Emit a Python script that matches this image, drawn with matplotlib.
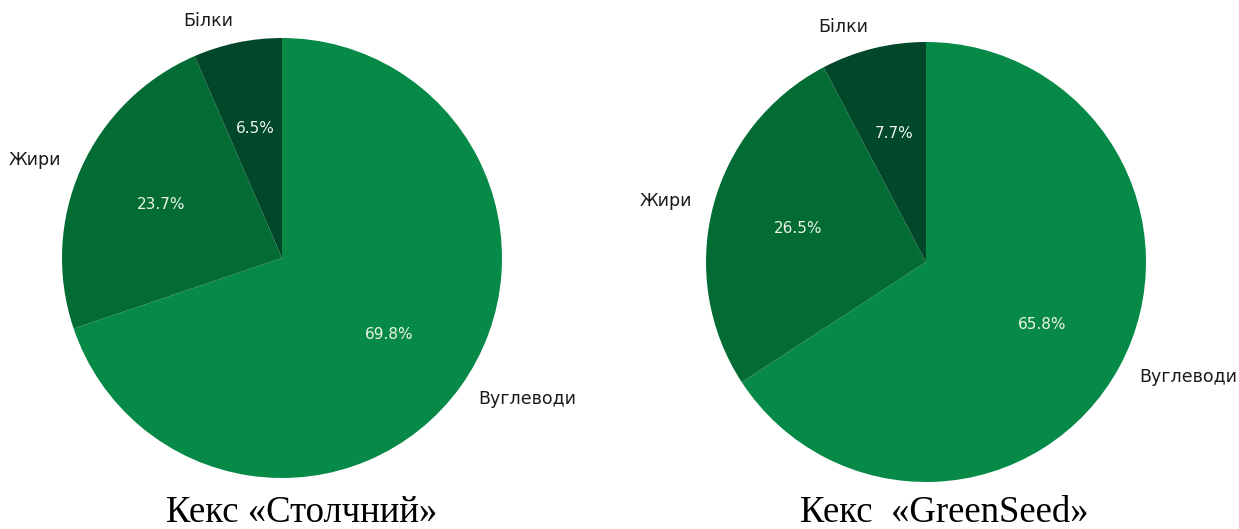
import matplotlib
matplotlib.use("Agg")
import matplotlib.pyplot as plt

# nutrient shares per product, percent
nutrients = ["Вуглеводи", "Жири", "Білки"]
stolychnyi = [69.8, 23.7, 6.5]
greenseed = [65.8, 26.5, 7.7]
titles = ["Кекс «Столчний»", "Кекс  «GreenSeed»"]

colors = ["#078a48", "#036c34", "#01472a"]

W, H = 1239, 529
fig = plt.figure(figsize=(W / 100, H / 100), dpi=100)

radius_px = 220
pies = [
    (stolychnyi, (282, 258), titles[0], 302),
    (greenseed, (926, 262), titles[1], 944),
]

for values, (cx, cy), title, tx in pies:
    half = 1.1 * radius_px
    ax = fig.add_axes([(cx - half) / W, (H - cy - half) / H,
                       2 * half / W, 2 * half / H])
    wedges, texts, autotexts = ax.pie(
        values, labels=nutrients, colors=colors, autopct="%1.1f%%",
        startangle=90, counterclock=False,
        textprops={"fontsize": 12.5, "color": "#1a1a1a"},
    )
    for t in autotexts:
        t.set_color("#eef4e8")
        t.set_fontsize(11)
    ax.set_xlim(-1.1, 1.1)
    ax.set_ylim(-1.1, 1.1)
    ax.set_aspect("equal")
    ax.axis("off")
    # product name under each pie
    fig.text(tx / W, (H - 522) / H, title, ha="center", va="baseline",
             family="Liberation Serif", fontsize=26.5)

fig.savefig("out.png", dpi=100)
